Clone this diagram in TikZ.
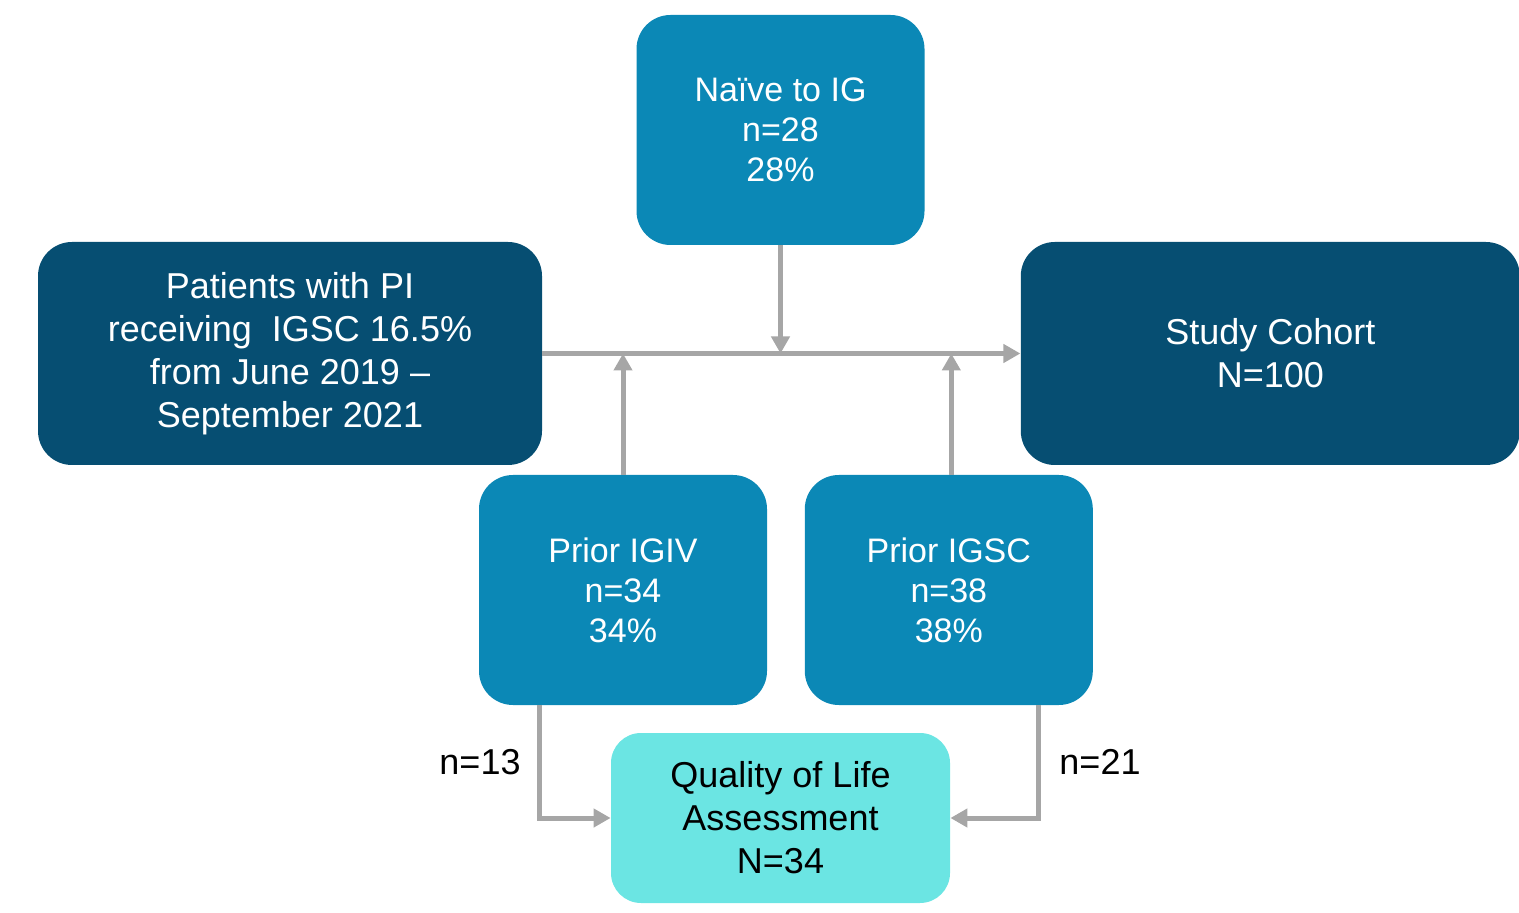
\documentclass[tikz,border=0pt]{standalone}
\usepackage{fontspec}
\setmainfont{Liberation Sans}
\usepackage{xcolor}
\usetikzlibrary{arrows.meta,positioning}
\definecolor{midblue}{HTML}{0B88B6}
\definecolor{darkblue}{HTML}{064E72}
\definecolor{lightcyan}{HTML}{6BE5E3}
\definecolor{linegray}{HTML}{A6A6A6}

\begin{document}
\begin{tikzpicture}[x=0.5pt,y=-0.5pt,
  box/.style={rounded corners=17pt,align=center,inner sep=0pt,text=white,
    font=\fontsize{17}{20}\selectfont,minimum width=144pt,minimum height=115pt,fill=midblue},
  bigbox/.style={box,fill=darkblue,font=\fontsize{18}{21.5}\selectfont,
    minimum width=251pt,minimum height=111.5pt},
  lbl/.style={font=\fontsize{18}{21.5}\selectfont},
  arr/.style={line width=2.5pt,draw=linegray,-{Triangle[length=8.5pt,width=9pt]}}]
  \useasboundingbox (0,0) rectangle (1519,913);
  \node[box] (naive) at (780.5,130) {Naïve to IG\\n=28\\28\%};
  \node[bigbox,minimum width=252pt] (pat) at (290,353.5) {Patients with PI\\receiving\ \ IGSC 16.5\%\\from June 2019 –\\September 2021};
  \node[bigbox,minimum width=249.5pt,right=239pt of pat] (cohort) {Study Cohort\\N=100};
  \node[box] (igiv) at (623,590) {Prior IGIV\\n=34\\34\%};
  \node[box,right=18.5pt of igiv] (igsc) {Prior IGSC\\n=38\\38\%};
  \node[box,fill=lightcyan,text=black,font=\fontsize{18}{21.5}\selectfont,
    minimum width=169.5pt,minimum height=85pt,rounded corners=15pt] (qol) at (780.5,818) {Quality of Life\\Assessment\\N=34};
  % main line and the three feeders
  \draw[arr] (pat.east) -- (cohort.west);
  \draw[arr] (naive.south) -- (naive.south |- pat.east);
  \draw[arr] (igiv.north) -- (igiv.north |- pat.east);
  \draw[arr] ([xshift=1.25pt]igsc.north) -- ([xshift=1.25pt]igsc.north |- pat.east);
  % to quality of life
  \draw[arr] ([xshift=30.5pt]igiv.south west) |- (qol.west);
  \draw[arr] ([xshift=-27.5pt]igsc.south east) |- (qol.east);
  \node[lbl] (n13) at (480,762) {n=13};
  \node[lbl] (n21) at (1100,762) {n=21};
\end{tikzpicture}
\end{document}
